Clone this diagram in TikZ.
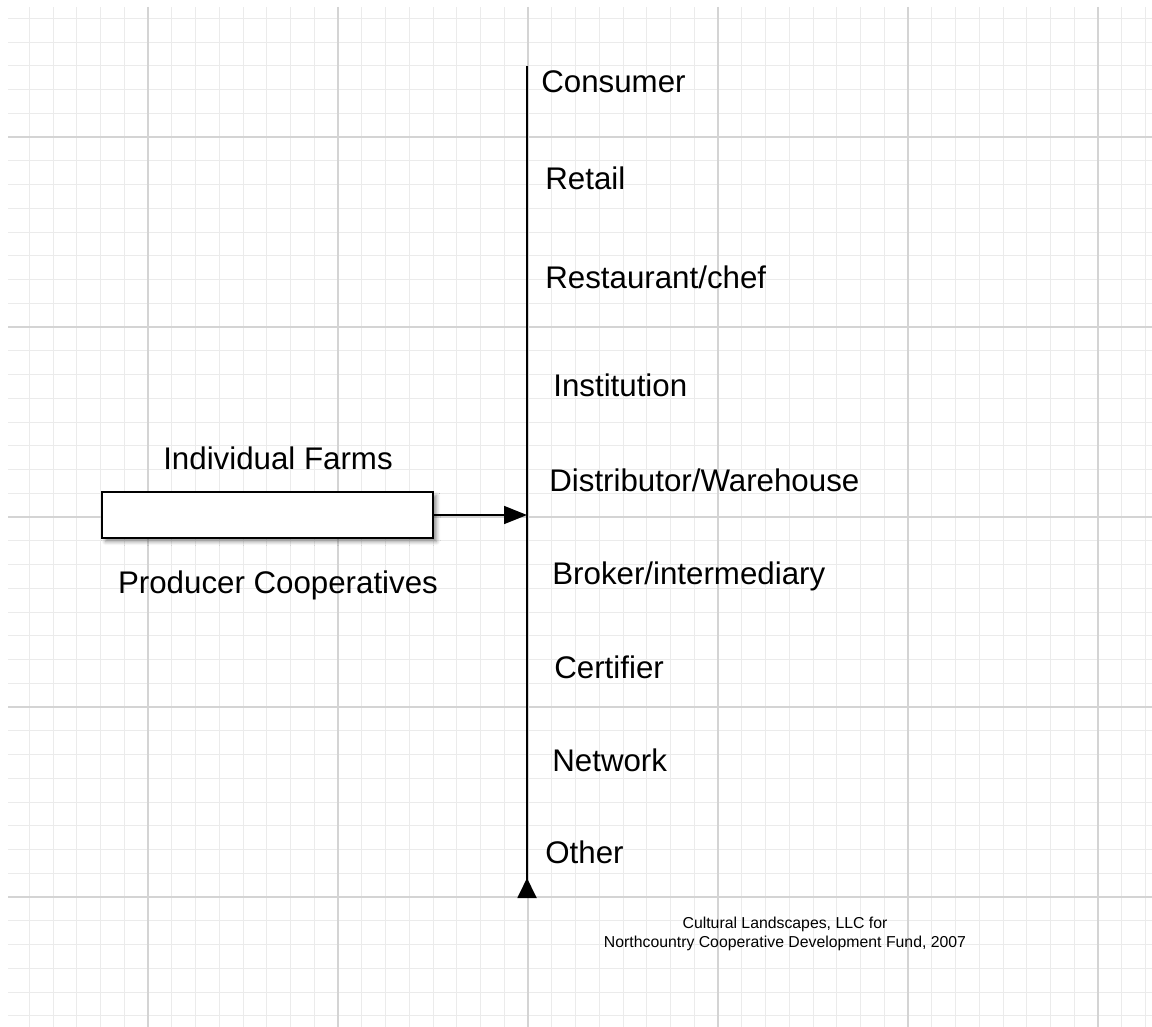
\documentclass[tikz,border=0pt]{standalone}
\usepackage{fontspec}
\setmainfont{Liberation Sans}
\usetikzlibrary{arrows.meta,shadows.blur}

\begin{document}
\begin{tikzpicture}[x=0.02cm, y=-0.02cm,
                minor/.style={draw=black!8, line width=0.5pt},
                major/.style={draw=black!17, line width=0.7pt},
                label/.style={anchor=west, inner sep=0pt, font=\fontsize{17.8}{20}\selectfont},
                side/.style={inner sep=0pt, font=\fontsize{17.8}{20}\selectfont},
                farmbox/.style={rectangle, draw, fill=white, line width=1.3pt,
                    minimum width=6.62cm, minimum height=0.92cm,
                    blur shadow={shadow xshift=0.07cm, shadow yshift=-0.07cm, shadow blur steps=6, shadow opacity=45}}]
                \useasboundingbox (0,0) rectangle (1152,1027);
                % grid paper
                \foreach \i in {-5,...,42}
                    \draw[minor] ({148+23.75*\i},7) -- ({148+23.75*\i},1027);
                \foreach \i in {-5,...,37}
                    \draw[minor] (8,{137+23.75*\i}) -- (1152,{137+23.75*\i});
                \foreach \i in {0,...,5}
                    \draw[major] ({148+190*\i},7) -- ({148+190*\i},1027);
                \foreach \i in {0,...,4}
                    \draw[major] (8,{137+190*\i}) -- (1152,{137+190*\i});
                % the chain
                \coordinate (top) at (527,66);
                \coordinate (bottom) at (527,898);
                \coordinate (hit) at (527,515);
                \node[farmbox] (farms) at (267.5,515) {};
                \node[side] (indiv) at (278,458) {Individual Farms};
                \node[side] (coop) at (278,585) {Producer Cooperatives};
                \node[label] (consumer) at (541,82) {Consumer};
                \node[label] (retail) at (545,178) {Retail};
                \node[label] (chef) at (545,277) {Restaurant/chef};
                \node[label] (inst) at (553,385) {Institution};
                \node[label] (distr) at (549,480) {Distributor/Warehouse};
                \node[label] (broker) at (552,576) {Broker/intermediary};
                \node[label] (cert) at (554,667) {Certifier};
                \node[label] (network) at (552,760) {Network};
                \node[label] (other) at (545,852) {Other};
                \node[align=center, font=\fontsize{9}{10.8}\selectfont] (credit) at (785,934)
                    {Cultural Landscapes, LLC for\\Northcountry Cooperative Development Fund, 2007};
                \draw [line width=1.1pt, -{Triangle[reversed, length=0.4cm, width=0.38cm]}]
                    (top) -- (bottom);
                \draw [line width=0.9pt, -{Triangle[length=0.46cm, width=0.36cm]}]
                    (farms) -- (hit);
            \end{tikzpicture}
\end{document}
